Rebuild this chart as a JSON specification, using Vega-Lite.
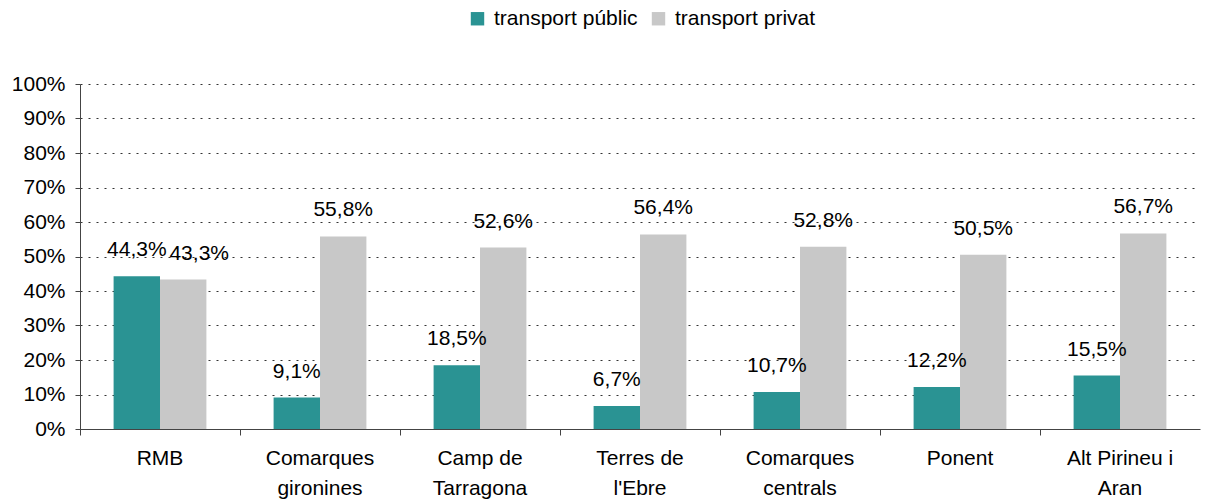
{
  "$schema": "https://vega.github.io/schema/vega-lite/v6.json",
  "width": 1120,
  "height": 345,
  "autosize": "none",
  "padding": {"left": 80, "top": 84, "right": 7, "bottom": 71},
  "background": "white",
  "config": {
    "locale": {"number": {"decimal": ",", "thousands": ".", "grouping": [3], "currency": ["", " €"]}},
    "font": "Liberation Sans",
    "view": {"stroke": null},
    "axis": {"labelFont": "Liberation Sans", "labelFontSize": 21, "labelColor": "#000", "domainColor": "#444", "tickColor": "#444"}
  },
  "data": {
    "values": [
      {"zona": "RMB", "tipus": "transport públic", "valor": 0.443},
      {"zona": "RMB", "tipus": "transport privat", "valor": 0.433},
      {"zona": "Comarques gironines", "tipus": "transport públic", "valor": 0.091},
      {"zona": "Comarques gironines", "tipus": "transport privat", "valor": 0.558},
      {"zona": "Camp de Tarragona", "tipus": "transport públic", "valor": 0.185},
      {"zona": "Camp de Tarragona", "tipus": "transport privat", "valor": 0.526},
      {"zona": "Terres de l'Ebre", "tipus": "transport públic", "valor": 0.067},
      {"zona": "Terres de l'Ebre", "tipus": "transport privat", "valor": 0.564},
      {"zona": "Comarques centrals", "tipus": "transport públic", "valor": 0.107},
      {"zona": "Comarques centrals", "tipus": "transport privat", "valor": 0.528},
      {"zona": "Ponent", "tipus": "transport públic", "valor": 0.122},
      {"zona": "Ponent", "tipus": "transport privat", "valor": 0.505},
      {"zona": "Alt Pirineu i Aran", "tipus": "transport públic", "valor": 0.155},
      {"zona": "Alt Pirineu i Aran", "tipus": "transport privat", "valor": 0.567}
    ]
  },
  "encoding": {
    "x": {
      "field": "zona", "type": "nominal", "sort": null,
      "scale": {"paddingInner": 0.42, "paddingOuter": 0.21},
      "axis": {
        "title": null, "labelAngle": 0, "bandPosition": -0.362, "tickSize": 6, "labelPadding": 12,
        "labelLineHeight": 30, "labelBaseline": "top", "grid": false, "domainColor": "#444",
        "labelExpr": "datum.label == 'Comarques gironines' ? ['Comarques', 'gironines'] : datum.label == 'Camp de Tarragona' ? ['Camp de', 'Tarragona'] : datum.label == \"Terres de l'Ebre\" ? ['Terres de', \"l'Ebre\"] : datum.label == 'Comarques centrals' ? ['Comarques', 'centrals'] : datum.label == 'Alt Pirineu i Aran' ? ['Alt Pirineu i', 'Aran'] : datum.label"
      }
    },
    "xOffset": {"field": "tipus", "type": "nominal", "sort": ["transport públic", "transport privat"], "scale": {"paddingInner": 0, "paddingOuter": 0}},
    "y": {
      "field": "valor", "type": "quantitative",
      "scale": {"domain": [0, 1], "nice": false},
      "axis": {
        "title": null, "format": ".0%", "values": [0, 0.1, 0.2, 0.3, 0.4, 0.5, 0.6, 0.7, 0.8, 0.9, 1], "labelOverlap": false,
        "tickSize": 5, "labelPadding": 10, "grid": true, "gridColor": "#333", "gridDash": [2, 6], "gridWidth": 1
      }
    }
  },
  "layer": [
    {
      "mark": {"type": "bar"},
      "encoding": {
        "color": {
          "field": "tipus", "type": "nominal",
          "scale": {"domain": ["transport públic", "transport privat"], "range": ["#2A9393", "#C8C8C8"]},
          "legend": {
            "title": null, "orient": "none", "legendX": 387, "legendY": -76, "direction": "horizontal",
            "symbolType": "square", "symbolSize": 180, "symbolStrokeWidth": 0, "labelFontSize": 21, "labelFont": "Liberation Sans",
            "labelColor": "#000", "labelOffset": 6, "columnPadding": 10
          }
        }
      }
    },
    {
      "transform": [{"filter": "!(datum.zona == 'RMB' && datum.tipus == 'transport privat')"}],
      "mark": {"type": "text", "baseline": "alphabetic", "dy": -20, "fontSize": 21, "font": "Liberation Sans", "color": "#000"},
      "encoding": {"text": {"field": "valor", "type": "quantitative", "format": ".1%"}}
    },
    {
      "transform": [{"filter": "datum.zona == 'RMB' && datum.tipus == 'transport privat'"}],
      "mark": {"type": "text", "baseline": "alphabetic", "dy": -20, "dx": 16, "fontSize": 21, "font": "Liberation Sans", "color": "#000"},
      "encoding": {"text": {"field": "valor", "type": "quantitative", "format": ".1%"}}
    }
  ]
}
